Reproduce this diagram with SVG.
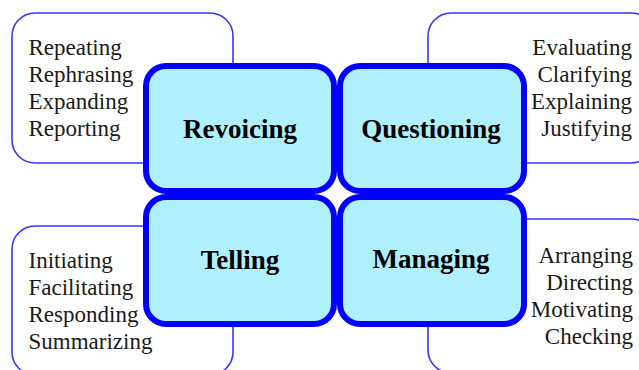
<svg xmlns="http://www.w3.org/2000/svg" width="639" height="370" viewBox="0 0 639 370">
<style>
.outer{fill:#ffffff;stroke:#3636ff;stroke-width:1.6}
.inner{fill:#b0f0fc;stroke:#0000ff;stroke-width:6}
.lst{font-family:"Liberation Serif","Times New Roman",serif;font-size:23px;fill:#1a1a1a}
.lbl{font-family:"Liberation Serif","Times New Roman",serif;font-size:27px;font-weight:bold;fill:#000000;text-anchor:middle}
.r{text-anchor:end}
</style>
<rect width="639" height="370" fill="#ffffff"/>
<g id="revoicing-list">
<rect class="outer" x="12" y="13" width="221" height="150" rx="23"/>
<text class="lst" x="28.5" y="55">Repeating</text>
<text class="lst" x="28.5" y="82">Rephrasing</text>
<text class="lst" x="28.5" y="109">Expanding</text>
<text class="lst" x="28.5" y="136">Reporting</text>
</g>
<g id="questioning-list">
<rect class="outer" x="428" y="13" width="226" height="150" rx="23"/>
<text class="lst r" x="632" y="55">Evaluating</text>
<text class="lst r" x="632" y="82">Clarifying</text>
<text class="lst r" x="632" y="109">Explaining</text>
<text class="lst r" x="632" y="136">Justifying</text>
</g>
<g id="telling-list">
<rect class="outer" x="12" y="226" width="221" height="149" rx="23"/>
<text class="lst" x="28.5" y="268">Initiating</text>
<text class="lst" x="28.5" y="295">Facilitating</text>
<text class="lst" x="28.5" y="322">Responding</text>
<text class="lst" x="28.5" y="349">Summarizing</text>
</g>
<g id="managing-list">
<rect class="outer" x="428" y="219" width="226" height="154" rx="23"/>
<text class="lst r" x="633" y="263">Arranging</text>
<text class="lst r" x="633" y="290">Directing</text>
<text class="lst r" x="633" y="317">Motivating</text>
<text class="lst r" x="633" y="344">Checking</text>
</g>
<g id="revoicing">
<rect class="inner" x="146" y="66" width="188" height="125" rx="20"/>
<text class="lbl" x="240" y="138">Revoicing</text>
</g>
<g id="questioning">
<rect class="inner" x="340" y="66" width="184" height="125" rx="20"/>
<text class="lbl" x="431" y="138">Questioning</text>
</g>
<g id="telling">
<rect class="inner" x="146" y="197" width="188" height="127" rx="20"/>
<text class="lbl" x="240" y="269">Telling</text>
</g>
<g id="managing">
<rect class="inner" x="340" y="197" width="184" height="127" rx="20"/>
<text class="lbl" x="431" y="268">Managing</text>
</g>
<g id="connectors"></g>
</svg>
